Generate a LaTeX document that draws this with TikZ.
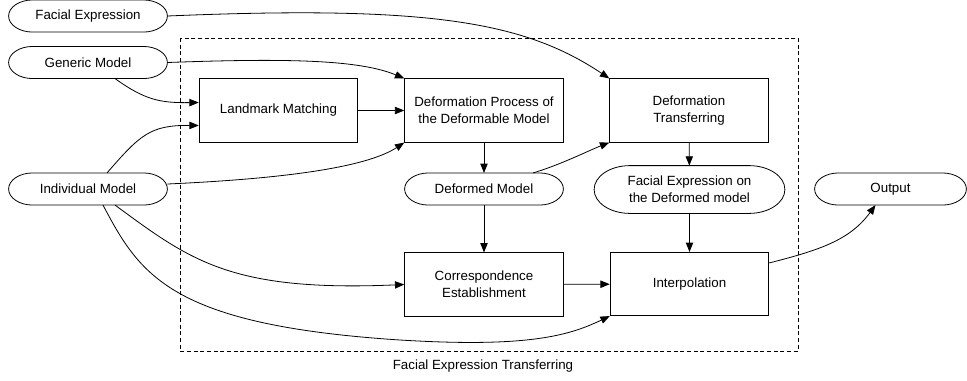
\documentclass[tikz,border=0pt]{standalone}
\usepackage{fontspec}
\setmainfont{Liberation Sans}
\usetikzlibrary{arrows.meta,calc}

\tikzset{
  box/.style={draw, rectangle, minimum width=119pt, minimum height=47.5pt, inner sep=0pt, align=center},
  term/.style={rectangle, minimum width=118.5pt, minimum height=23.5pt, inner sep=0pt, align=center},
  conn/.style={-{Triangle[length=7pt,width=5.5pt]}, line width=0.6pt},
}

\begin{document}
\begin{tikzpicture}[x=0.75pt, y=-0.75pt, line width=0.6pt, font=\fontsize{10}{12.5}\selectfont]
\useasboundingbox (0,0) rectangle (967,380);

% dashed frame of the transfer stage
\draw[dash pattern=on 3pt off 2pt] (180,38) rectangle (798,351);
\node (ftlabel) at (483,366) {Facial Expression Transferring};

% inputs and outputs
\node[term] (fexp) at (88,16) {Facial Expression};
\node[term] (gen) at (88,62.5) {Generic Model};
\node[term] (ind) at (88,189) {Individual Model};
\node[term] (dm) at (484,189) {Deformed Model};
\node[term, minimum width=142.5pt, minimum height=35.25pt] (fed) at (689.5,189.5) {Facial Expression on\\the Deformed model};
\node[term, minimum width=113.25pt] (out) at (890.5,189) {Output};

% process boxes
\node[box] (lm) at (278.5,110.5) {Landmark Matching};
\node[box] (dpm) at (484,110.5) {Deformation Process of\\the Deformable Model};
\node[box] (dt) at (689,110.5) {Deformation\\Transferring};
\node[box] (ce) at (484,284.5) {Correspondence\\Establishment};
\node[box] (ip) at (689.5,284) {Interpolation};

% outlines of the terminals
\foreach \nd in {fexp,gen,ind,dm,fed,out}
  \draw let \p1=(\nd.north west), \p2=(\nd.south east), \n1={0.5*(\y1-\y2)}, \n2={1.5*\n1} in
    (\x1+\n2*1pt,\y1) -- (\x2-\n2*1pt,\y1)
    arc[start angle=90, end angle=-90, x radius=\n2*1pt, y radius=\n1*1pt]
    -- (\x1+\n2*1pt,\y2)
    arc[start angle=270, end angle=90, x radius=\n2*1pt, y radius=\n1*1pt] -- cycle;

% connectors
\draw[conn] (fexp.east) .. controls (430,5) and (525,22) .. (dt.north west);
\draw[conn] (gen.east) .. controls (290,58) and (360,60) .. (dpm.north west);
\draw[conn] ($(gen.south)+(27,0)$) .. controls (145,100) and (160,103) .. ($(lm.west)+(0,-8)$);
\draw[conn] ($(ind.north)+(19,0)$) .. controls (140,135) and (150,125) .. ($(lm.west)+(0,15)$);
\draw[conn] ($(ind.east)+(0,-5)$) .. controls (300,178) and (370,165) .. (dpm.south west);
\draw[conn] (lm) -- (dpm);
\draw[conn] (dpm) -- (dm);
\draw[conn] ($(dm.north)+(49,0)$) .. controls (560,165) and (590,150) .. (dt.south west);
\draw[conn] (dt) -- (fed);
\draw[conn] (dm) -- (ce);
\draw[conn] (fed) -- (ip);
\draw[conn] (ce) -- (ip);
\draw[conn] ($(ind.south)+(27,0)$) .. controls (190,260) and (230,292) .. (ce.west);
\draw[conn] ($(ind.south)+(15,0)$) .. controls (140,275) and (170,325) .. (400,340)
  .. controls (530,348) and (570,335) .. (ip.south west);
\draw[conn] ($(ip.north east)+(0,11)$) .. controls (820,250) and (850,240) .. ($(out.south)+(-15,0)$);
\end{tikzpicture}
\end{document}
